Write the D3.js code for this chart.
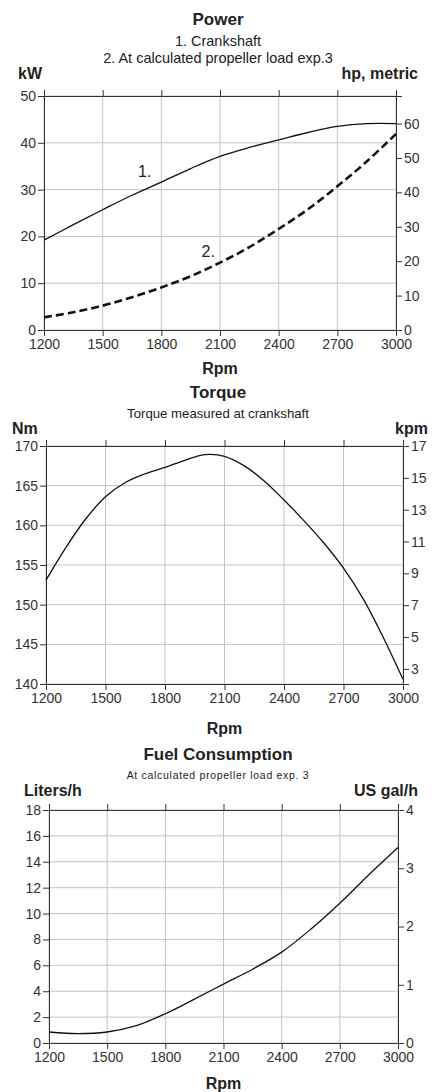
<!DOCTYPE html>
<html lang="en">
<head>
  <meta charset="UTF-8">
  <title>Engine performance curves</title>
  <script src="https://d3js.org/d3.v7.min.js"></script>
  <style>
    body { margin: 0; background: #fff; }
    text { font-family: "Liberation Sans", Arial, sans-serif; fill: #222; }
    .grid line { stroke: #c4c4c4; stroke-width: 1; }
    .axis path, .axis line { stroke: #333; }
    .axis text { font-size: 14px; fill: #333; }
  </style>
</head>
<body>
  <div id="chart"></div>

  <script>
    // Rpm values shared by all three panels
    const rpmTicks = [1200, 1500, 1800, 2100, 2400, 2700, 3000];

    // Power (kW)
    const powerRpm = [1200, 1350, 1500, 1650, 1800, 1950, 2100, 2250, 2400, 2550, 2700, 2850, 3000];
    const crankshaftKw = [19.2, 22.5, 25.7, 28.8, 31.6, 34.5, 37.1, 39.0, 40.6, 42.2, 43.5, 44.1, 44.1];
    const propellerKw = [2.7, 3.8, 5.2, 7.0, 9.1, 11.5, 14.4, 17.7, 21.6, 25.8, 30.7, 36.0, 41.9];
    const kwTicks = [0, 10, 20, 30, 40, 50];
    const hpTicks = [0, 10, 20, 30, 40, 50, 60];

    // Torque (Nm)
    const torqueRpm = [1200, 1300, 1400, 1500, 1600, 1700, 1800, 1900, 2000, 2100, 2200, 2300, 2400, 2500, 2600, 2700, 2800, 2900, 3000];
    const torqueNm = [153.1, 157.2, 160.8, 163.6, 165.4, 166.5, 167.3, 168.2, 168.9, 168.7, 167.5, 165.6, 163.2, 160.6, 157.8, 154.6, 150.7, 145.9, 140.6];
    const nmTicks = [140, 145, 150, 155, 160, 165, 170];
    const kpmTicks = [3, 5, 7, 9, 11, 13, 15, 17];

    // Fuel consumption (liters/h)
    const fuelRpm = [1200, 1350, 1500, 1650, 1800, 1950, 2100, 2250, 2400, 2550, 2700, 2850, 3000];
    const fuelLph = [0.85, 0.72, 0.85, 1.34, 2.26, 3.39, 4.55, 5.7, 7.02, 8.79, 10.8, 13.0, 15.1];
    const lphTicks = [0, 2, 4, 6, 8, 10, 12, 14, 16, 18];
    const galTicks = [0, 1, 2, 3, 4];

    const W = 436, H = 1092;

    const svg = d3.select("#chart")
      .append("svg")
      .attr("width", W)
      .attr("height", H);

    // draws one panel: frame, grid, four axes, unit labels
    function panel(o) {
      const x = d3.scaleLinear().domain([1200, 3000]).range([o.left, o.right]);
      const y = d3.scaleLinear().domain(o.yDomain).range([o.bottom, o.top]);
      const y2 = d3.scaleLinear().domain(o.y2Domain).range([o.bottom, o.top]);

      // grid
      const g = svg.append("g").attr("class", "grid");
      g.selectAll(".vx").data(rpmTicks).enter().append("line")
        .attr("x1", d => x(d)).attr("x2", d => x(d))
        .attr("y1", o.top).attr("y2", o.bottom);
      g.selectAll(".hy").data(o.yTicks).enter().append("line")
        .attr("x1", o.left).attr("x2", o.right)
        .attr("y1", d => y(d)).attr("y2", d => y(d));

      svg.append("g").attr("class", "axis")
        .attr("transform", "translate(0," + o.bottom + ")")
        .call(d3.axisBottom(x).tickValues(rpmTicks).tickFormat(d3.format("d")).tickSize(6).tickPadding(3));
      svg.append("g").attr("class", "axis")
        .attr("transform", "translate(0," + o.top + ")")
        .call(d3.axisTop(x).tickValues(rpmTicks).tickFormat("").tickSize(6));
      svg.append("g").attr("class", "axis")
        .attr("transform", "translate(" + o.left + ",0)")
        .call(d3.axisLeft(y).tickValues(o.yTicks).tickFormat(d3.format("d")).tickSize(6).tickPadding(2));
      svg.append("g").attr("class", "axis")
        .attr("transform", "translate(" + o.right + ",0)")
        .call(d3.axisRight(y2).tickValues(o.y2Ticks).tickFormat(d3.format("d")).tickSize(6).tickPadding(2));

      // titles
      svg.append("text").attr("x", 218).attr("y", o.titleY)
        .attr("text-anchor", "middle").style("font-size", "17px").style("font-weight", "bold")
        .text(o.title);
      o.subtitles.forEach((s, i) => {
        svg.append("text").attr("x", 218).attr("y", o.subY + i * 17)
          .attr("text-anchor", "middle").style("font-size", o.subSize)
          .style("letter-spacing", o.subSpacing || null)
          .text(s);
      });
      svg.append("text").attr("x", o.unitLeftX).attr("y", o.unitY)
        .style("font-size", "16px").style("font-weight", "bold").text(o.unitLeft);
      svg.append("text").attr("x", o.unitRightX).attr("y", o.unitY)
        .attr("text-anchor", "end")
        .style("font-size", "16px").style("font-weight", "bold").text(o.unitRight);
      svg.append("text").attr("x", (o.left + o.right) / 2).attr("y", o.rpmY)
        .attr("text-anchor", "middle").style("font-size", "16px").style("font-weight", "bold")
        .text("Rpm");

      return { x, y };
    }

    function curve(sc, xs, ys, dashed) {
      const line = d3.line()
        .x(d => sc.x(d[0]))
        .y(d => sc.y(d[1]))
        .curve(d3.curveCatmullRom.alpha(0.5));
      svg.append("path")
        .datum(xs.map((v, i) => [v, ys[i]]))
        .attr("fill", "none")
        .attr("stroke", "#111")
        .attr("stroke-width", dashed ? 2.6 : 1.3)
        .attr("stroke-dasharray", dashed ? "8,4" : null)
        .attr("d", line);
    }

    // Power
    const p = panel({
      left: 44, right: 396, top: 96, bottom: 330,
      yDomain: [0, 50], yTicks: kwTicks,
      y2Domain: [0, 68], y2Ticks: hpTicks,
      title: "Power", titleY: 25,
      subtitles: ["1. Crankshaft", "2. At calculated propeller load exp.3"], subY: 46, subSize: "14.5px",
      unitLeft: "kW", unitLeftX: 18, unitRight: "hp, metric", unitRightX: 418, unitY: 79,
      rpmY: 374
    });
    curve(p, powerRpm, crankshaftKw, false);
    curve(p, powerRpm, propellerKw, true);
    svg.append("text").attr("x", p.x(1715)).attr("y", p.y(32.7))
      .attr("text-anchor", "middle").style("font-size", "16px").text("1.");
    svg.append("text").attr("x", p.x(2040)).attr("y", p.y(15.6))
      .attr("text-anchor", "middle").style("font-size", "16px").text("2.");

    // Torque
    const t = panel({
      left: 46, right: 403, top: 446, bottom: 684,
      yDomain: [140, 170], yTicks: nmTicks,
      y2Domain: [2.05, 17], y2Ticks: kpmTicks,
      title: "Torque", titleY: 398,
      subtitles: ["Torque measured at crankshaft"], subY: 418, subSize: "13.2px",
      unitLeft: "Nm", unitLeftX: 12, unitRight: "kpm", unitRightX: 428, unitY: 434,
      rpmY: 734
    });
    curve(t, torqueRpm, torqueNm, false);

    // Fuel consumption
    const f = panel({
      left: 49, right: 398, top: 810, bottom: 1043,
      yDomain: [0, 18], yTicks: lphTicks,
      y2Domain: [0, 4], y2Ticks: galTicks,
      title: "Fuel Consumption", titleY: 760,
      subtitles: ["At calculated propeller load exp. 3"], subY: 779, subSize: "10.5px", subSpacing: "0.7px",
      unitLeft: "Liters/h", unitLeftX: 24, unitRight: "US gal/h", unitRightX: 418, unitY: 796,
      rpmY: 1089
    });
    curve(f, fuelRpm, fuelLph, false);
  </script>
</body>
</html>
